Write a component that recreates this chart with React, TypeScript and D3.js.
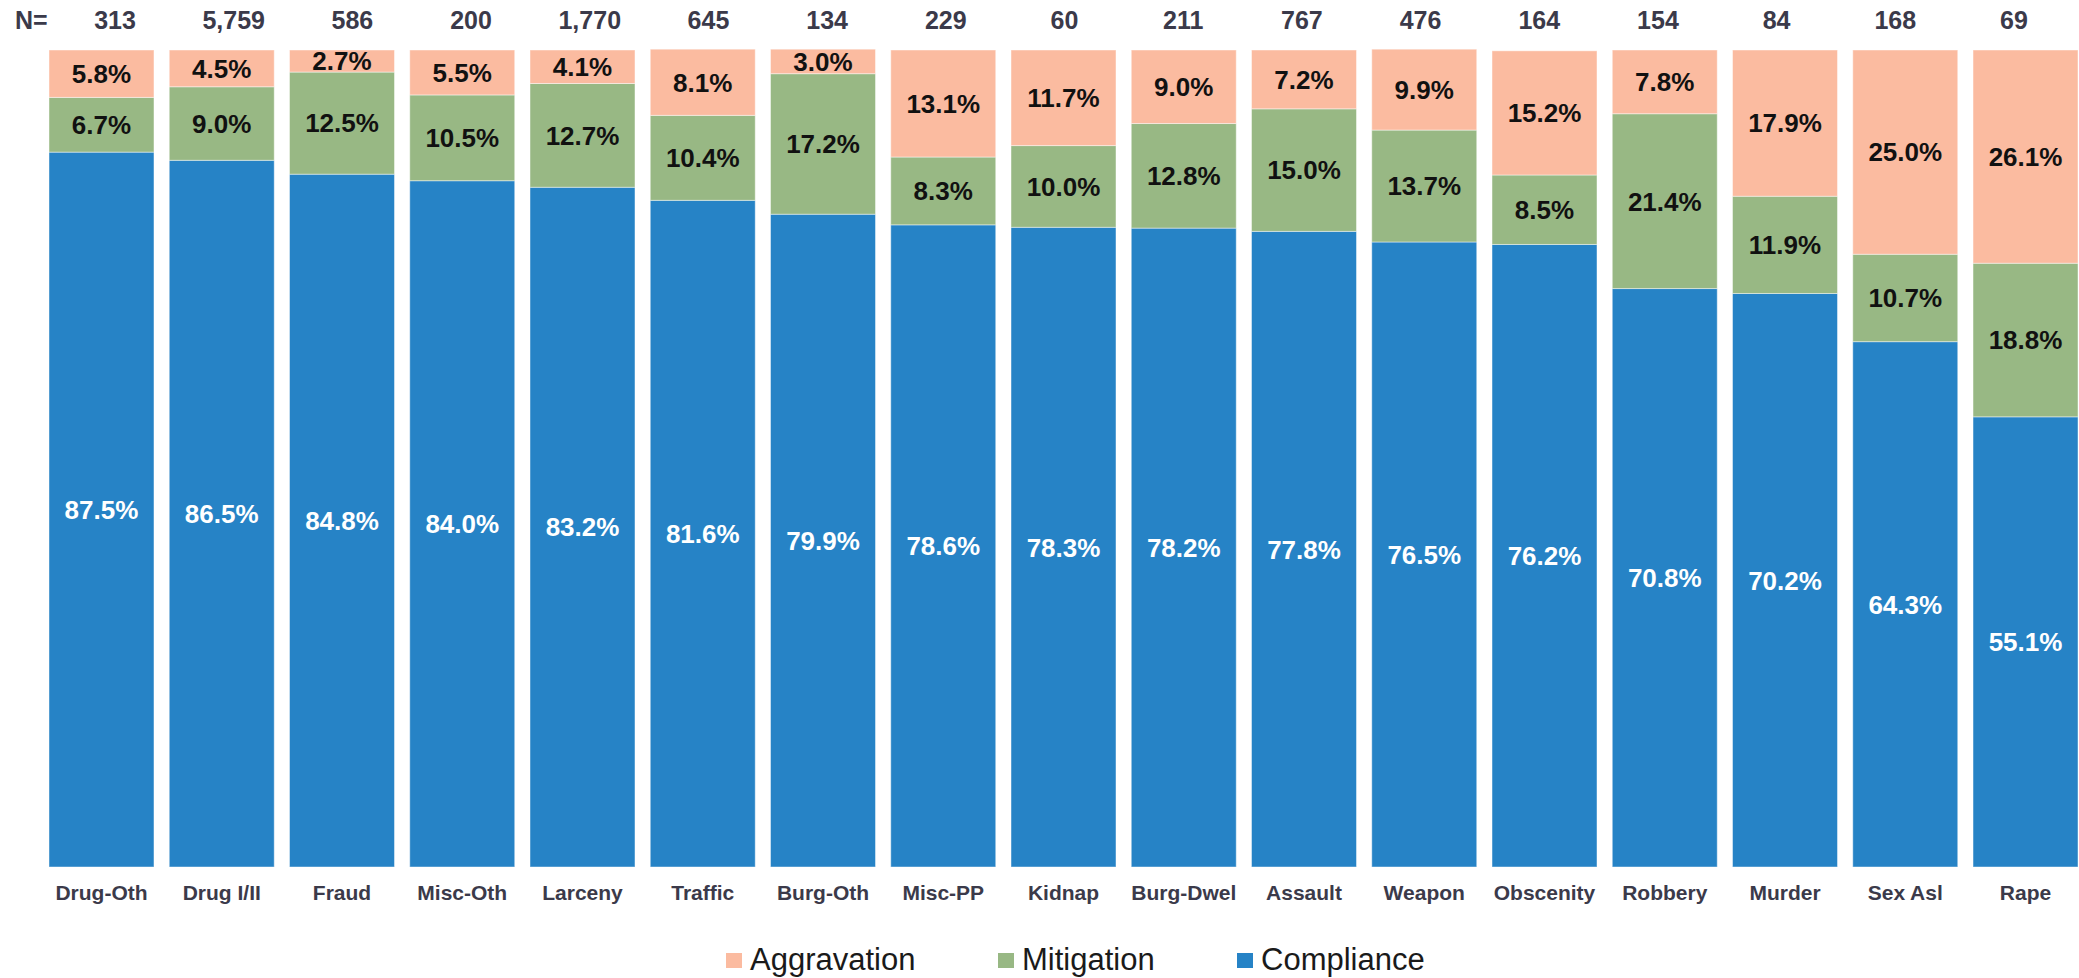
import React from "react";
import * as d3 from "d3";

const categories = ["Drug-Oth", "Drug I/II", "Fraud", "Misc-Oth", "Larceny", "Traffic", "Burg-Oth", "Misc-PP", "Kidnap", "Burg-Dwel", "Assault", "Weapon", "Obscenity", "Robbery", "Murder", "Sex Asl", "Rape"];
const counts = [313, 5759, 586, 200, 1770, 645, 134, 229, 60, 211, 767, 476, 164, 154, 84, 168, 69];
const compliance = [87.5, 86.5, 84.8, 84.0, 83.2, 81.6, 79.9, 78.6, 78.3, 78.2, 77.8, 76.5, 76.2, 70.8, 70.2, 64.3, 55.1];
const mitigation = [6.7, 9.0, 12.5, 10.5, 12.7, 10.4, 17.2, 8.3, 10.0, 12.8, 15.0, 13.7, 8.5, 21.4, 11.9, 10.7, 18.8];
const aggravation = [5.8, 4.5, 2.7, 5.5, 4.1, 8.1, 3.0, 13.1, 11.7, 9.0, 7.2, 9.9, 15.2, 7.8, 17.9, 25.0, 26.1];

const seriesKeys = ["Compliance", "Mitigation", "Aggravation"];
const legendOrder = ["Aggravation", "Mitigation", "Compliance"];
const colors: Record<string, string> = {
  Compliance: "#2683c6",
  Mitigation: "#98b884",
  Aggravation: "#fbbba0",
};

const W = 2079;
const H = 978;

export default function App() {
  const rows = categories.map((c, i) => ({
    cat: c,
    Compliance: compliance[i],
    Mitigation: mitigation[i],
    Aggravation: aggravation[i],
  }));

  const x = d3.scaleBand<string>().domain(categories).range([49, 2078]).paddingInner(0.127).paddingOuter(0);
  const xN = d3.scalePoint<string>().domain(categories).range([115, 2014]);
  const y = d3.scaleLinear().domain([0, 100]).range([867, 50]);

  const stacked = d3.stack<any>().keys(seriesKeys)(rows);
  const fmt = d3.format(",");

  // legend swatch left edges
  const legendX = [726, 998, 1237];

  return (
    <div>
      <style>{"body{margin:0}"}</style>
      <svg width={W} height={H} style={{ display: "block", fontFamily: "'Liberation Sans', Arial, sans-serif" }}>
        <rect width={W} height={H} fill="#fff" />
        <text x={15} y={29} fontSize={25} fontWeight="bold" fill="#3b3a4a">N=</text>
        {categories.map((c, i) => (
          <text key={"n" + c} x={xN(c)} y={29} fontSize={25} fontWeight="bold" fill="#3b3a4a" textAnchor="middle">
            {fmt(counts[i])}
          </text>
        ))}
        {stacked.map((s) => (
          <g key={s.key}>
            {s.map((d, i) => (
              <rect
                key={i}
                x={x(categories[i])}
                y={y(d[1])}
                width={x.bandwidth()}
                height={y(d[0]) - y(d[1])}
                fill={colors[s.key]}
                stroke="#ffffff"
                strokeOpacity={0.45}
                strokeWidth={1}
              />
            ))}
            {s.map((d, i) => (
              <text
                key={"t" + i}
                x={(x(categories[i]) as number) + x.bandwidth() / 2}
                y={(y(d[0]) + y(d[1])) / 2}
                dy="0.36em"
                textAnchor="middle"
                fontSize={26}
                fontWeight="bold"
                fill={s.key === "Compliance" ? "#ffffff" : "#111111"}
              >
                {(d[1] - d[0]).toFixed(1)}%
              </text>
            ))}
          </g>
        ))}
        {categories.map((c) => (
          <text key={"c" + c} x={(x(c) as number) + x.bandwidth() / 2} y={900} fontSize={21} fontWeight="bold" fill="#3b3a4a" textAnchor="middle">
            {c}
          </text>
        ))}
        {legendOrder.map((k, i) => (
          <g key={k}>
            <rect x={legendX[i]} y={953} width={16} height={15} fill={colors[k]} />
            <text x={legendX[i] + 24} y={970} fontSize={31} fill="#1a1a1a">
              {k}
            </text>
          </g>
        ))}
      </svg>
    </div>
  );
}
